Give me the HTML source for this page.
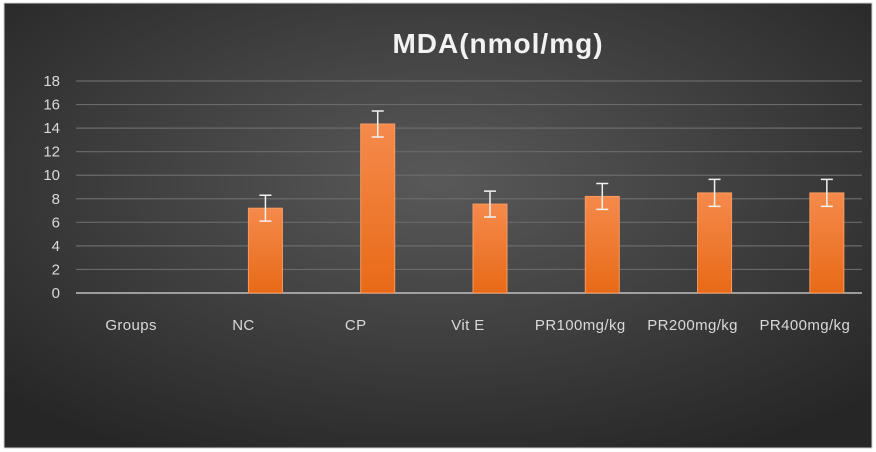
<!DOCTYPE html>
<html><head><meta charset="utf-8"><style>
body{margin:0;width:876px;height:452px;overflow:hidden;background:#fff}
svg{display:block}
text{font-family:"Liberation Sans",sans-serif;fill:#d9d9d9}
</style></head><body>
<svg width="876" height="452">
<defs>
<radialGradient id="bg" cx="0.5" cy="0.4" r="0.7">
<stop offset="0" stop-color="#595959"/><stop offset="1" stop-color="#262626"/></radialGradient>
<linearGradient id="bar" x1="0" y1="0" x2="0" y2="1">
<stop offset="0" stop-color="#f58a4c"/><stop offset="1" stop-color="#e86a17"/></linearGradient>
</defs>
<rect x="4" y="3" width="868" height="445" fill="url(#bg)" stroke="#d0d0d0" stroke-width="1"/>
<text x="498" y="53" text-anchor="middle" font-size="28" font-weight="bold" letter-spacing="1" style="fill:#f2f2f2">MDA(nmol/mg)</text>
<g id="grid"></g><g id="bars"></g><g id="labels"></g>
</svg>
<script>
const categories=["Groups","NC","CP","Vit E","PR100mg/kg","PR200mg/kg","PR400mg/kg"];
const values=[null,7.2,14.35,7.55,8.2,8.5,8.5];
const errors=[null,1.1,1.1,1.1,1.1,1.15,1.15];
const ticks=[0,2,4,6,8,10,12,14,16,18];
const NS="http://www.w3.org/2000/svg";
const x0=76,x1=862,y0=293,yTop=81,ymax=18;
const bw=(x1-x0)/categories.length;
const y=v=>y0-(v/ymax)*(y0-yTop);
const xc=i=>x0+bw*(i+0.5);
function mk(t,a,p){const e=document.createElementNS(NS,t);for(const k in a)e.setAttribute(k,a[k]);p.appendChild(e);return e;}
const g=document.getElementById('grid'),b=document.getElementById('bars'),l=document.getElementById('labels');
ticks.forEach(t=>{
 const ln=mk('line',{x1:x0,x2:x1,y1:y(t),y2:y(t),stroke:t===0?'#bfbfbf':'#6a6a6a','stroke-width':t===0?1.5:1.2},g);
 
 
 const tx=mk('text',{x:60,y:y(t)+5,'text-anchor':'end','font-size':15},g);tx.textContent=t;
 
 
});
categories.forEach((c,i)=>{
 const tx=mk('text',{x:xc(i)-1,y:330,'text-anchor':'middle','font-size':15,'letter-spacing':0.4},l);tx.textContent=c;
 
 
 const v=values[i];if(v==null)return;
 const cx=xc(i)+21;
 const r=mk('rect',{x:cx-17,y:y(v),width:34,height:y0-y(v),fill:'url(#bar)',stroke:'#f79a60','stroke-width':1},b);
 
 
 const e=errors[i],hi=y(v+e),lo=y(v-e);
 const eb=mk('path',{d:`M${cx},${hi}V${lo}M${cx-6},${hi}H${cx+6}M${cx-6},${lo}H${cx+6}`,stroke:'#f2f2f2','stroke-width':1.5,fill:'none'},b);
 
 
});
</script>
</body></html>
